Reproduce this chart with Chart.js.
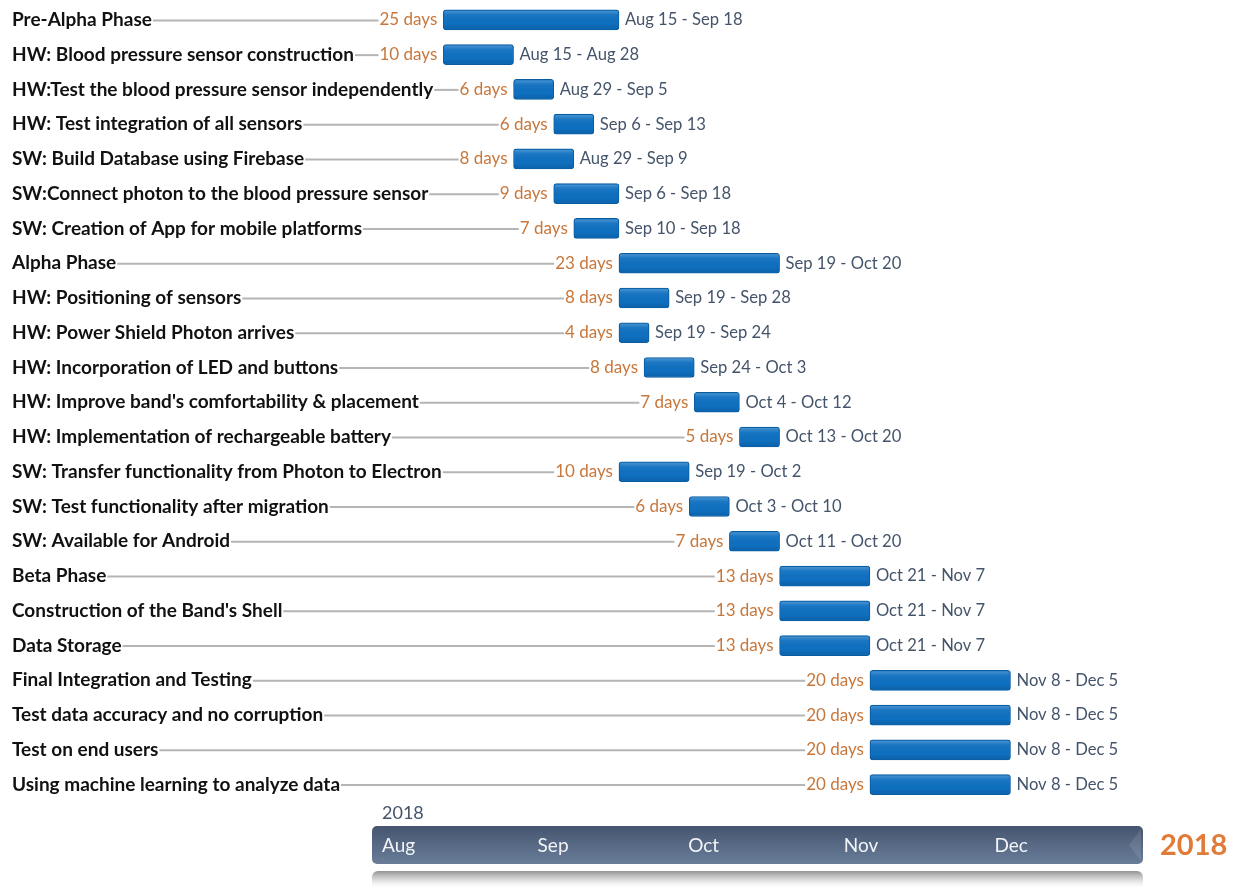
<!DOCTYPE html>
<html>
<head>
<meta charset="utf-8">
<title>Project timeline 2018</title>
<script src="https://cdn.jsdelivr.net/npm/chart.js@4.4.1/dist/chart.umd.min.js"></script>
<style>
    html, body { margin: 0; padding: 0; background: #ffffff; }
    #wrap { width: 1235px; height: 888px; }
</style>
</head>
<body>
<div id="wrap"><canvas id="gantt" width="1235" height="888"></canvas></div>
<script>
// Task names, top to bottom
const tasks = [
    'Pre-Alpha Phase',
    'HW: Blood pressure sensor construction',
    'HW:Test the blood pressure sensor independently',
    'HW: Test integration of all sensors',
    'SW: Build Database using Firebase',
    'SW:Connect photon to the blood pressure sensor',
    'SW: Creation of App for mobile platforms',
    'Alpha Phase',
    'HW: Positioning of sensors',
    'HW: Power Shield Photon arrives',
    'HW: Incorporation of LED and buttons',
    "HW: Improve band's comfortability & placement",
    'HW: Implementation of rechargeable battery',
    'SW: Transfer functionality from Photon to Electron',
    'SW: Test functionality after migration',
    'SW: Available for Android',
    'Beta Phase',
    "Construction of the Band's Shell",
    'Data Storage',
    'Final Integration and Testing',
    'Test data accuracy and no corruption',
    'Test on end users',
    'Using machine learning to analyze data'
];

// Start and end dates (inclusive), 2018
const startDates = [
    '08-15', '08-15', '08-29', '09-06', '08-29', '09-06', '09-10',
    '09-19', '09-19', '09-19', '09-24', '10-04', '10-13', '09-19', '10-03', '10-11',
    '10-21', '10-21', '10-21',
    '11-08', '11-08', '11-08', '11-08'
];
const endDates = [
    '09-18', '08-28', '09-05', '09-13', '09-09', '09-18', '09-18',
    '10-20', '09-28', '09-24', '10-03', '10-12', '10-20', '10-02', '10-10', '10-20',
    '11-07', '11-07', '11-07',
    '12-05', '12-05', '12-05', '12-05'
];

// Working days shown next to each bar
const durations = [25, 10, 6, 6, 8, 9, 7, 23, 8, 4, 8, 7, 5, 10, 6, 7, 13, 13, 13, 20, 20, 20, 20];

// Timeline axis (months shown on the band)
const monthLabels = ['Aug', 'Sep', 'Oct', 'Nov', 'Dec'];
const monthStarts = ['08-01', '09-01', '10-01', '11-01', '12-01'];
const axisStart = '08-01';
const axisEnd = '12-31';
const yearLabel = '2018';

const MONTH_NAMES = ['Jan', 'Feb', 'Mar', 'Apr', 'May', 'Jun', 'Jul', 'Aug', 'Sep', 'Oct', 'Nov', 'Dec'];

// Convert "MM-DD" to a day number counted from Aug 1
function dayNum(md) {
    const parts = md.split('-');
    const t = Date.UTC(2018, parseInt(parts[0], 10) - 1, parseInt(parts[1], 10));
    return Math.round((t - Date.UTC(2018, 7, 1)) / 86400000);
}

function niceDate(md) {
    const parts = md.split('-');
    return MONTH_NAMES[parseInt(parts[0], 10) - 1] + ' ' + parseInt(parts[1], 10);
}

const labelFont = 'bold 19px Lato, "Open Sans", sans-serif';
const dayFont = '17px Lato, "Open Sans", sans-serif';
const dateFont = '16.6px Lato, "Open Sans", sans-serif';

// Draw row labels, leader lines, day counts and date ranges
const annotationPlugin = {
    id: 'ganttText',
    afterDatasetsDraw(chart) {
        const ctx = chart.ctx;
        const meta = chart.getDatasetMeta(0);
        ctx.save();
        meta.data.forEach((bar, i) => {
            const y = bar.y;
            const left = Math.min(bar.x, bar.base);
            const right = Math.max(bar.x, bar.base);
            const h = bar.height;

            // bevel / shine on the bar
            const g = ctx.createLinearGradient(0, y - h / 2, 0, y + h / 2);
            g.addColorStop(0, 'rgba(255,255,255,0.28)');
            g.addColorStop(0.25, 'rgba(255,255,255,0.05)');
            g.addColorStop(0.7, 'rgba(0,0,0,0)');
            g.addColorStop(1, 'rgba(0,30,80,0.18)');
            ctx.fillStyle = g;
            ctx.fillRect(left + 1, y - h / 2 + 1, right - left - 2, h - 2);

            // task name
            ctx.font = labelFont;
            ctx.textBaseline = 'middle';
            ctx.textAlign = 'left';
            ctx.fillStyle = '#111111';
            ctx.fillText(tasks[i], 12, y);
            const nameEnd = 12 + ctx.measureText(tasks[i]).width;

            // duration
            ctx.font = dayFont;
            ctx.textAlign = 'right';
            ctx.fillStyle = '#c7773b';
            const durText = durations[i] + ' days';
            const durRight = left - 6;
            ctx.fillText(durText, durRight, y);
            const durLeft = durRight - ctx.measureText(durText).width;

            // leader line
            ctx.strokeStyle = '#b5b5b5';
            ctx.lineWidth = 2;
            ctx.beginPath();
            ctx.moveTo(nameEnd + 1, y + 0.5);
            ctx.lineTo(durLeft - 1, y + 0.5);
            ctx.stroke();

            // date range
            ctx.font = dateFont;
            ctx.textAlign = 'left';
            ctx.fillStyle = '#44546a';
            ctx.fillText(niceDate(startDates[i]) + ' - ' + niceDate(endDates[i]), right + 6, y);
        });
        ctx.restore();
    },
    afterDraw(chart) {
        // timeline band under the chart
        const ctx = chart.ctx;
        const xs = chart.scales.x;
        const x0 = xs.getPixelForValue(dayNum(axisStart)) - 1;
        const x1 = xs.getPixelForValue(dayNum(axisEnd) + 1) + 2;
        const top = 826, bottom = 864;
        ctx.save();

        // reflection
        const rg = ctx.createLinearGradient(0, 871, 0, 888);
        rg.addColorStop(0, 'rgba(140,140,140,0.95)');
        rg.addColorStop(0.5, 'rgba(200,200,200,0.7)');
        rg.addColorStop(1, 'rgba(255,255,255,0.2)');
        ctx.fillStyle = rg;
        ctx.beginPath();
        ctx.roundRect(x0, 871, x1 - x0, 20, 6);
        ctx.fill();

        // band
        const bg = ctx.createLinearGradient(0, top, 0, bottom);
        bg.addColorStop(0, '#46556f');
        bg.addColorStop(1, '#697d99');
        ctx.fillStyle = bg;
        ctx.beginPath();
        ctx.roundRect(x0, top, x1 - x0, bottom - top, 5);
        ctx.fill();

        // right end bevel
        ctx.fillStyle = 'rgba(255,255,255,0.10)';
        ctx.beginPath();
        ctx.moveTo(x1 - 2, top + 3);
        ctx.lineTo(x1 - 14, top + (bottom - top) / 2);
        ctx.lineTo(x1 - 2, bottom - 3);
        ctx.closePath();
        ctx.fill();

        // month labels
        ctx.font = '19px Lato, "Open Sans", sans-serif';
        ctx.textBaseline = 'middle';
        ctx.textAlign = 'left';
        ctx.fillStyle = '#f2f4f8';
        monthLabels.forEach((m, i) => {
            ctx.fillText(m, xs.getPixelForValue(dayNum(monthStarts[i])) + 9, 846);
        });

        // year above the band
        ctx.font = '18px Lato, "Open Sans", sans-serif';
        ctx.fillStyle = '#44546a';
        ctx.fillText(yearLabel, xs.getPixelForValue(dayNum(axisStart)) + 9, 813);

        // big year on the right
        ctx.font = 'bold 29px Lato, "Open Sans", sans-serif';
        ctx.fillStyle = '#e07b39';
        ctx.fillText(yearLabel, x1 + 17, 846);
        ctx.restore();
    }
};

const barData = startDates.map((s, i) => [dayNum(s), dayNum(endDates[i]) + 1]);

new Chart(document.getElementById('gantt').getContext('2d'), {
    type: 'bar',
    data: {
        labels: tasks,
        datasets: [{
            data: barData,
            backgroundColor: '#0f70c0',
            borderColor: '#0b5c9f',
            borderWidth: 1,
            borderRadius: 3,
            borderSkipped: false,
            barThickness: 20
        }]
    },
    options: {
        indexAxis: 'y',
        responsive: false,
        animation: false,
        layout: {
            padding: { left: 373, right: 94, top: 2.5, bottom: 86 }
        },
        plugins: {
            legend: { display: false },
            tooltip: { enabled: false }
        },
        scales: {
            x: {
                type: 'linear',
                display: false,
                min: dayNum(axisStart),
                max: dayNum(axisEnd) + 1
            },
            y: {
                display: false,
                offset: true
            }
        }
    },
    plugins: [annotationPlugin]
});
</script>
</body>
</html>
